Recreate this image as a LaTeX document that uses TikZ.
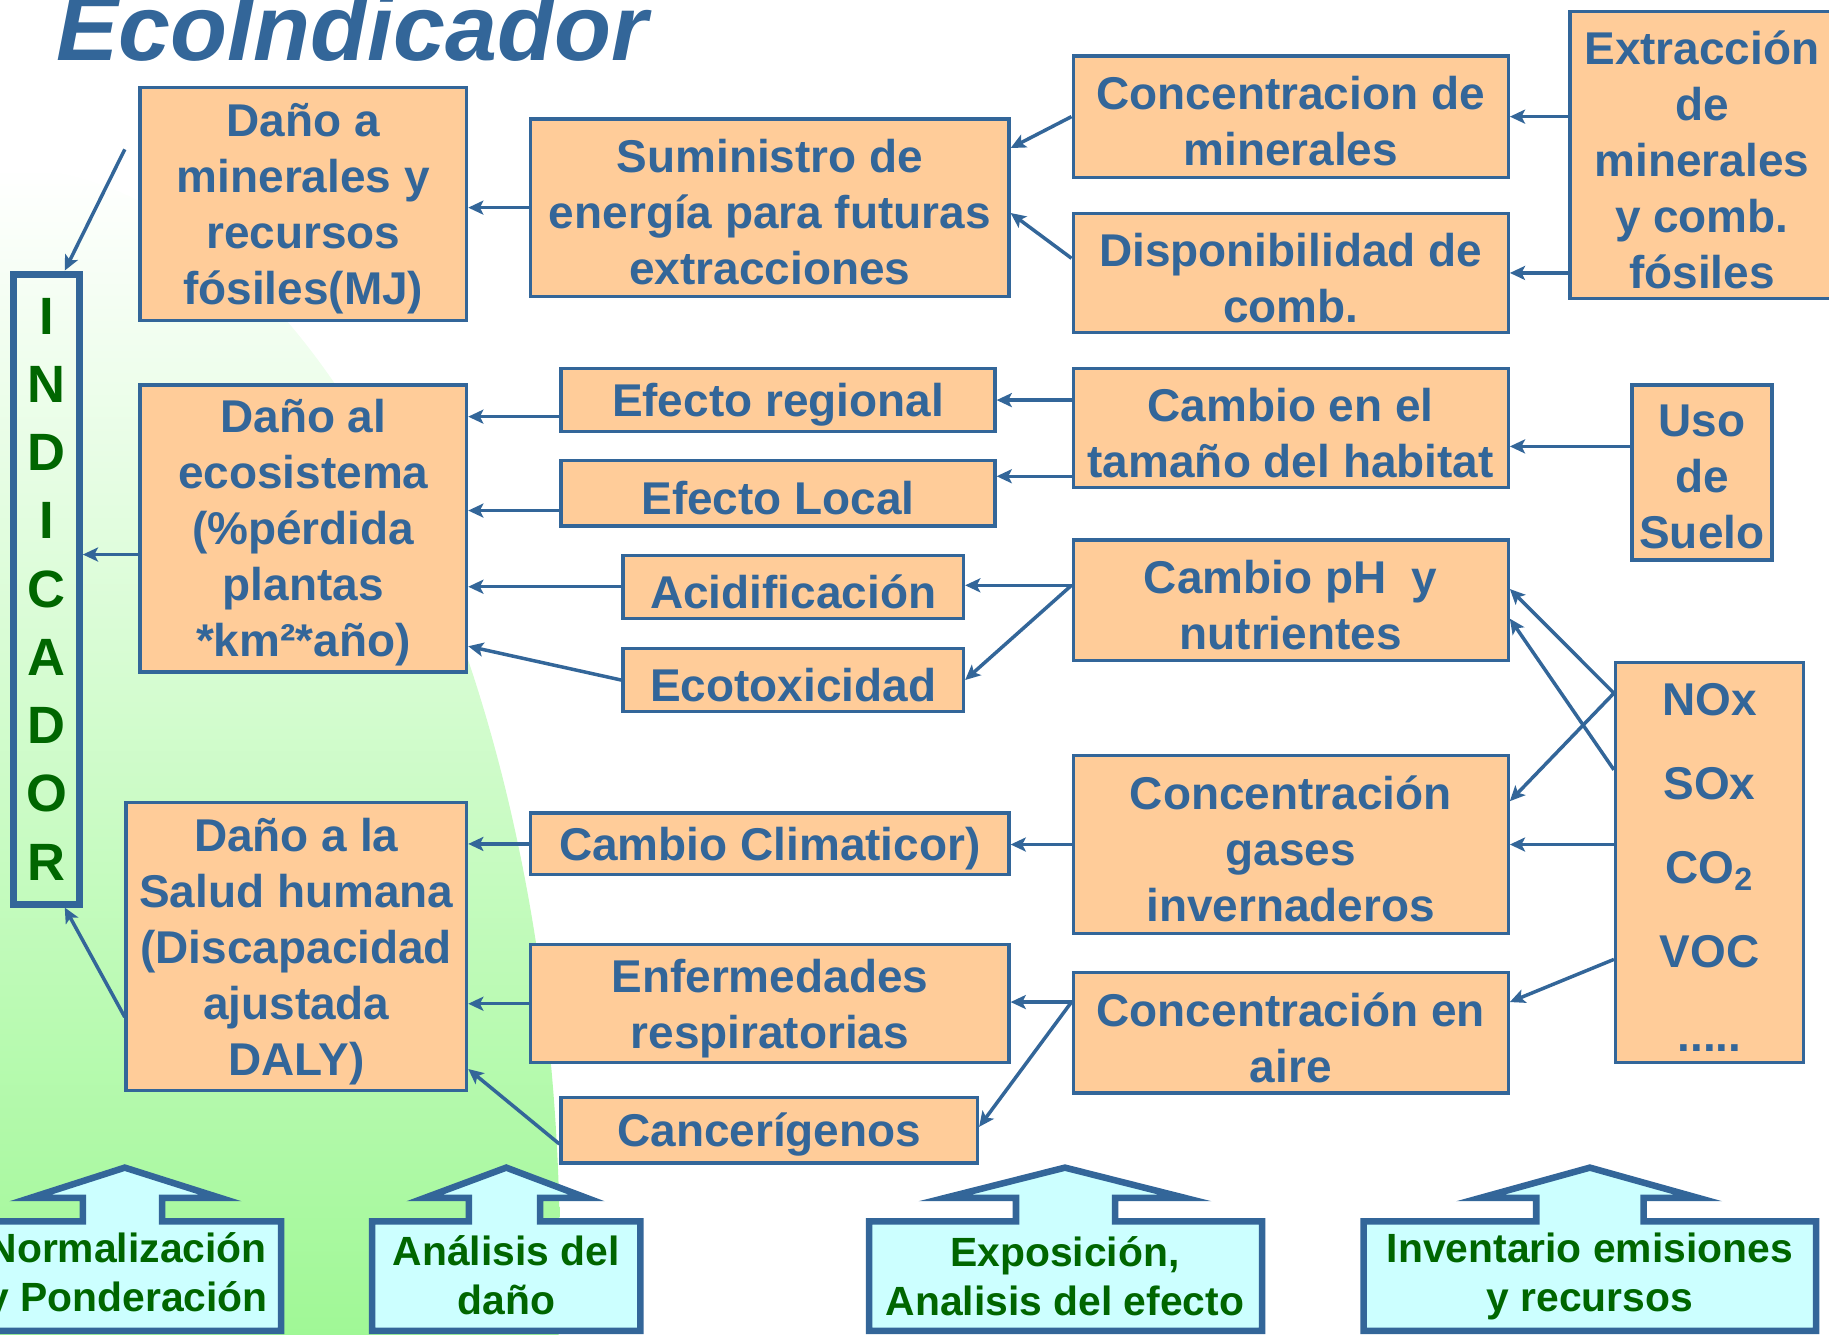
\documentclass[tikz,border=0pt]{standalone}
\usepackage{fontspec}
\setmainfont{Liberation Sans}
\usetikzlibrary{arrows.meta,calc}
\definecolor{eblue}{RGB}{51,102,153}
\definecolor{eorange}{RGB}{255,204,153}
\definecolor{ecyan}{RGB}{204,255,255}
\definecolor{egreen}{RGB}{0,102,0}
\definecolor{bggreen}{RGB}{160,248,150}
\newcommand\ebox[6]{\node[obox, minimum width={(#4-#2)*0.5pt}, minimum height={(#5-#3)*0.5pt}] (#1) at ({(#2+#4)/2},{(#3+#5)/2}) {};
\node[otext] (#1t) at ($(#1.center)+(0,4)$) {#6};}
\begin{document}
\begin{tikzpicture}[x=0.5pt,y=-0.5pt,
 obox/.style={draw=eblue, line width=1.4pt, fill=eorange, inner sep=0pt},
 otext/.style={text=eblue, align=center, inner sep=0pt, font=\bfseries\fontsize{19.7}{24}\selectfont},
 conn/.style={draw=eblue, line width=1.5pt, -{Stealth[length=6.5pt,width=6pt,inset=1.5pt]}},
 callout/.style={draw=eblue, line width=2.8pt, fill=ecyan, line join=miter},
 clabel/.style={text=egreen, align=center, inner sep=0pt, font=\bfseries\fontsize{17.5}{21}\selectfont},
]
\useasboundingbox (0,0) rectangle (1568,1144);
% background
\begin{scope}
\clip (0,0) rectangle (1568,1144);
\clip (0,1080) ellipse [x radius=480, y radius=937];
\shade[top color=white, bottom color=bggreen] (0,143) rectangle (480,1144);
\end{scope}
% title
\node[anchor=base west, text=eblue, inner sep=0pt, font=\bfseries\itshape\fontsize{40}{48}\selectfont] (title) at (48,52) {EcoIndicador};
% indicador
\node[draw=eblue, line width=3pt, minimum width=28pt, minimum height=270pt, inner sep=0pt, text=egreen, align=center, font=\bfseries\fontsize{22.5}{29.25}\selectfont] (ind) at (40,505) {I\\N\\D\\I\\C\\A\\D\\O\\R};
% boxes
\ebox{b1}{120}{75}{400}{275}{Daño a\\minerales y\\recursos\\fósiles(MJ)}
\ebox{b2}{455}{102}{865}{254}{Suministro de\\energía para futuras\\extracciones}
\ebox{b3}{920}{48}{1293}{152}{Concentracion de\\minerales}
\ebox{b4}{920}{183}{1293}{285}{Disponibilidad de\\comb.}
\ebox{b5}{1346}{10}{1572}{256}{Extracción\\de\\minerales\\y comb.\\fósiles}
\ebox{b6}{120}{330}{400}{576}{Daño al\\ecosistema\\(\%pérdida\\plantas\\*km²*año)}
\ebox{b7}{481}{316}{853}{370}{Efecto regional}
\ebox{b8}{481}{395}{853}{451}{Efecto Local}
\ebox{b9}{534}{476}{826}{530}{Acidificación}
\ebox{b10}{534}{556}{826}{610}{Ecotoxicidad}
\ebox{b11}{920}{316}{1293}{418}{Cambio en el\\tamaño del habitat}
\ebox{b12}{1399}{330}{1519}{480}{Uso\\de\\Suelo}
\ebox{b13}{920}{463}{1293}{566}{Cambio pH~ y\\nutrientes}
\ebox{b14}{1385}{568}{1546}{911}{NOx\\[12pt]SOx\\[12pt]CO\textsubscript{2}\\[12pt]VOC\\[12pt].....}
\ebox{b15}{920}{648}{1293}{800}{Concentración\\gases\\invernaderos}
\ebox{b16}{920}{834}{1293}{937}{Concentración en\\aire}
\ebox{b17}{108}{688}{400}{935}{Daño a la\\Salud humana\\(Discapacidad\\ajustada\\DALY)}
\ebox{b18}{455}{697}{865}{750}{Cambio Climaticor)}
\ebox{b19}{455}{810}{865}{911}{Enfermedades\\respiratorias}
\ebox{b20}{481}{941}{838}{997}{Cancerígenos}
% bottom callouts
\draw[callout] (-23,1047) -- (71,1047) -- (71,1027) -- (26,1027) -- (107,1001) -- (189,1027) -- (139,1027) -- (139,1047) -- (241,1047) -- (241,1141) -- (-23,1141) -- cycle;
\draw[callout] (319,1047) -- (402,1047) -- (402,1027) -- (364,1027) -- (434,1001) -- (503,1027) -- (463,1027) -- (463,1047) -- (549,1047) -- (549,1141) -- (319,1141) -- cycle;
\draw[callout] (745,1047) -- (871,1047) -- (871,1027) -- (810,1027) -- (913,1001) -- (1016,1027) -- (956,1027) -- (956,1047) -- (1082,1047) -- (1082,1141) -- (745,1141) -- cycle;
\draw[callout] (1169,1047) -- (1317,1047) -- (1317,1027) -- (1269,1027) -- (1363,1001) -- (1456,1027) -- (1409,1027) -- (1409,1047) -- (1557,1047) -- (1557,1141) -- (1169,1141) -- cycle;
\node[clabel] (l1) at (109,1094) {Normalización\\y Ponderación};
\node[clabel] (l2) at (434,1093) {Análisis del\\daño};
\node[clabel] (l3) at (913,1094) {Exposición,\\Analisis del efecto};
\node[clabel] (l4) at (1363,1094) {Inventario emisiones\\y recursos};
% connectors
\draw[conn] (b2.west) -- (b2.west -| b1.east);
\draw[conn] (b3.west) -- ($(b2.north east)!0.17!(b2.south east)$);
\draw[conn] ($(b4.north west)!0.38!(b4.south west)$) -- ($(b2.north east)!0.53!(b2.south east)$);
\draw[conn] (b5.west |- b3.east) -- (b3.east);
\draw[conn] (b5.west |- b4.east) -- (b4.east);
\coordinate (q7) at ($(b7.west)!0.5!(b7.south west)$);
\draw[conn] (q7) -- (q7 -| b6.east);
\coordinate (q8) at ($(b8.west)!0.5!(b8.south west)$);
\draw[conn] (q8) -- (q8 -| b6.east);
\draw[conn] (b9.west) -- (b9.west -| b6.east);
\draw[conn] (b10.west) -- ($(b6.north east)!0.906!(b6.south east)$);
\draw[conn] (b11.west |- b7.east) -- (b7.east);
\coordinate (q8e) at ($(b8.north east)!0.25!(b8.south east)$);
\draw[conn] (b11.west |- q8e) -- (q8e);
\coordinate (q11) at ($(b11.north east)!0.65!(b11.south east)$);
\draw[conn] (b12.west |- q11) -- (q11);
\coordinate (q13) at ($(b13.north west)!0.38!(b13.south west)$);
\draw[conn] (q13) -- (q13 -| b9.east);
\draw[conn] (q13) -- (b10.east);
\coordinate (n1) at ($(b14.north west)!0.08!(b14.south west)$);
\coordinate (n2) at ($(b14.north west)!0.27!(b14.south west)$);
\coordinate (n4) at ($(b14.north west)!0.74!(b14.south west)$);
\draw[conn] (n1) -- ($(b13.north east)!0.41!(b13.south east)$);
\draw[conn] (n2) -- ($(b13.north east)!0.65!(b13.south east)$);
\draw[conn] (n1) -- ($(b15.north east)!0.26!(b15.south east)$);
\draw[conn] (b14.west |- b15.east) -- (b15.east);
\draw[conn] (n4) -- ($(b16.north east)!0.25!(b16.south east)$);
\draw[conn] (b15.west) -- (b15.west -| b18.east);
\coordinate (q16) at ($(b16.north west)!0.25!(b16.south west)$);
\draw[conn] (q16) -- (q16 -| b19.east);
\draw[conn] (q16) -- ($(b20.north east)!0.45!(b20.south east)$);
\draw[conn] (b18.west) -- (b18.west -| b17.east);
\draw[conn] (b19.west) -- (b19.west -| b17.east);
\draw[conn] ($(b20.north west)!0.7!(b20.south west)$) -- ($(b17.north east)!0.92!(b17.south east)$);
\coordinate (q6) at ($(b6.north west)!0.59!(b6.south west)$);
\draw[conn] (q6) -- (q6 -| ind.east);
\coordinate (f1) at (107,128);
\draw[conn] (f1) -- ($(ind.north)!0.5!(ind.north east)$);
\coordinate (f2) at (107,872);
\draw[conn] (f2) -- ($(ind.south)!0.5!(ind.south east)$);
\end{tikzpicture}
\end{document}
